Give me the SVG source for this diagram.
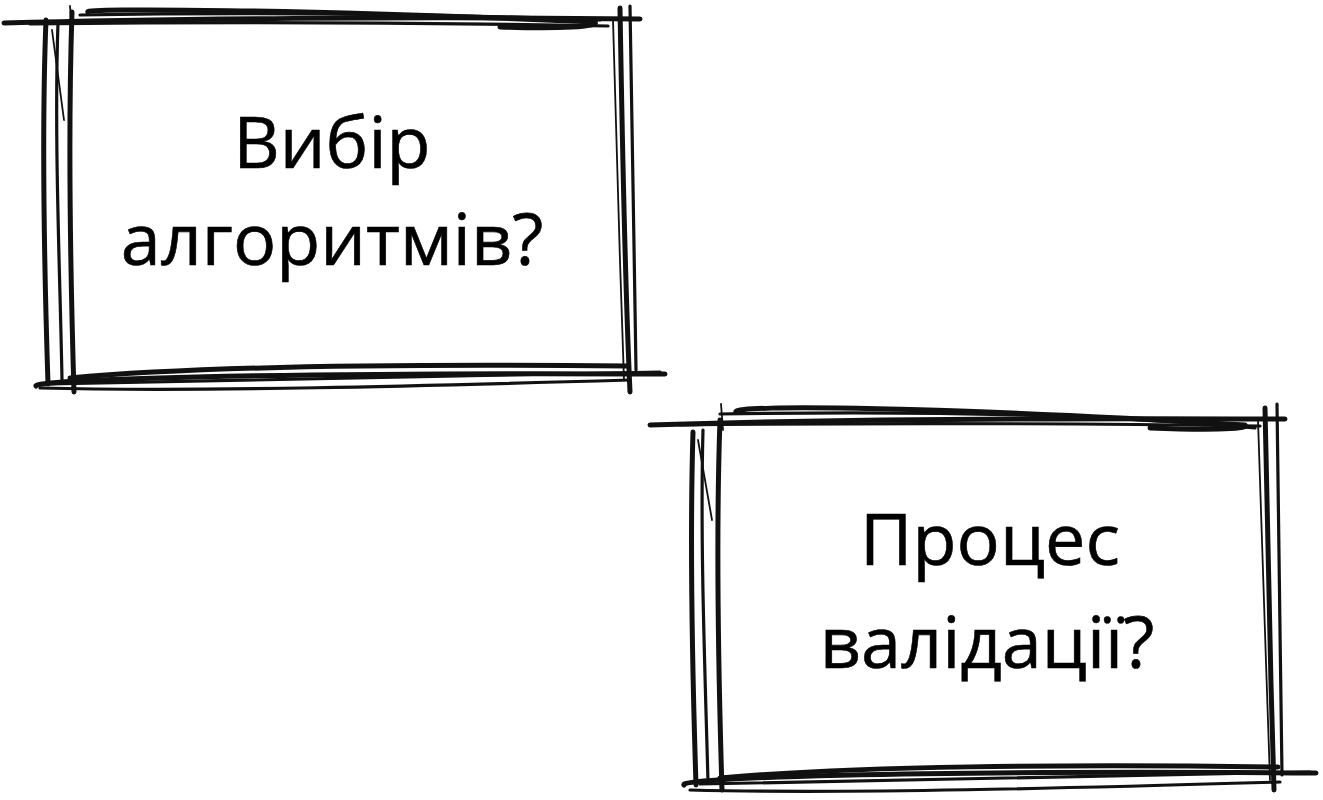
<svg xmlns="http://www.w3.org/2000/svg" width="1323" height="800" viewBox="0 0 1323 800">
<style>
.s{fill:none;stroke:#111;stroke-linecap:round;stroke-linejoin:round}
.t{stroke-width:5}
.m{stroke-width:3.2}
.f{stroke-width:1.8}
.lbl{font-family:"Open Sans","Noto Sans",sans-serif;font-size:72px;fill:#000;text-anchor:middle;stroke:#000;stroke-width:0.6}
</style>
<rect width="1323" height="800" fill="#fff"/>
<g id="node-1">
<path class="s t" d="M4 23 C150 19 420 16 640 19"/>
<path class="s m" d="M30 24 C200 22 400 22 608 26"/>
<path class="s t" d="M88 12 C80 8 300 9 595 22 C600 27 560 29 500 27"/>
<path class="s m" d="M80 15 C250 12 450 14 600 20"/>
<path class="s f" d="M70 6 L72 30"/>
<path class="s t" d="M46 20 C42 120 44 260 48 384"/>
<path class="s m" d="M58 22 C54 140 60 270 62 380"/>
<path class="s t" d="M72 12 C68 130 70 260 74 392"/>
<path class="s f" d="M52 30 L64 120"/>
<path class="s t" d="M620 8 C622 120 624 260 630 392"/>
<path class="s m" d="M630 6 C632 110 634 250 636 370"/>
<path class="s f" d="M613 20 C616 150 620 260 624 380"/>
<path class="s t" d="M36 386 C30 380 260 372 665 374"/>
<path class="s m" d="M40 388 C200 392 420 386 630 380"/>
<path class="s t" d="M70 378 C200 366 420 364 628 366"/>
<path class="s m" d="M50 384 C250 380 450 376 660 372"/>
<text class="lbl" x="332" y="168">Вибір</text>
<text class="lbl" x="332" y="265">алгоритмів?</text>
</g>
<g id="node-2">
<path class="s t" d="M650 425 C800 420 1050 418 1285 419"/>
<path class="s m" d="M680 425 C850 423 1050 423 1260 426"/>
<path class="s t" d="M736 412 C730 404 950 407 1245 425 C1250 430 1200 430 1150 428"/>
<path class="s m" d="M720 414 C900 411 1100 414 1255 428"/>
<path class="s f" d="M721 404 L723 430"/>
<path class="s t" d="M693 432 C690 530 692 660 696 785"/>
<path class="s m" d="M703 430 C700 540 705 670 708 782"/>
<path class="s t" d="M720 420 C716 530 718 660 722 790"/>
<path class="s f" d="M698 440 L712 520"/>
<path class="s t" d="M1265 408 C1267 520 1270 660 1274 790"/>
<path class="s m" d="M1277 404 C1279 510 1280 650 1282 775"/>
<path class="s f" d="M1258 420 C1262 550 1266 660 1270 780"/>
<path class="s t" d="M684 785 C676 778 900 770 1316 773"/>
<path class="s m" d="M690 790 C850 794 1070 788 1280 782"/>
<path class="s t" d="M720 778 C850 766 1070 764 1278 767"/>
<path class="s m" d="M700 784 C900 780 1100 776 1310 772"/>
<text class="lbl" x="990" y="565">Процес</text>
<text class="lbl" x="987" y="668">валідації?</text>
</g>
<g id="connectors"/>
</svg>
